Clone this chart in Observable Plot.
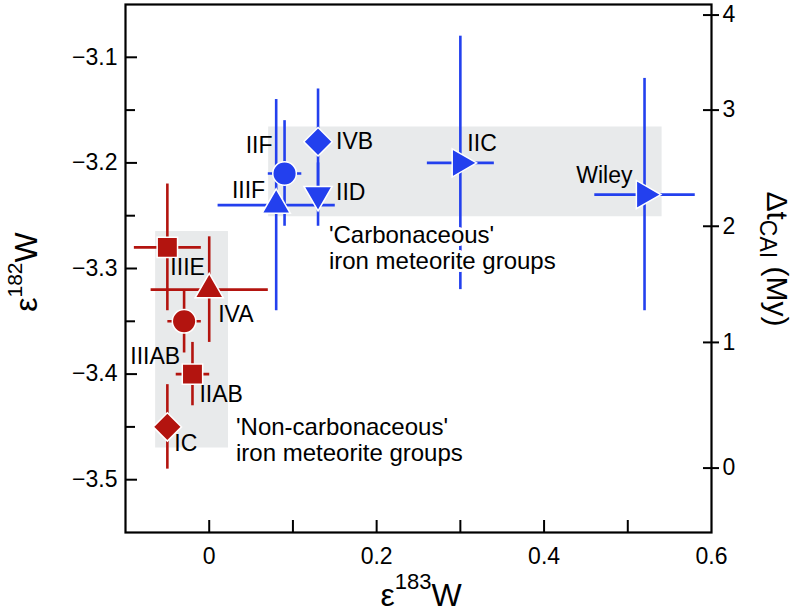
<!DOCTYPE html>
<html>
<head>
<meta charset="utf-8">
<script src="https://cdn.jsdelivr.net/npm/d3@7"></script>
<script src="https://cdn.jsdelivr.net/npm/@observablehq/plot@0.6"></script>
<style>
  html, body { margin: 0; padding: 0; background: white; }
  #chart svg { display: block; }
</style>
</head>
<body>
<div id="chart"></div>
<script>
// ---- data ----
const groups   = ["IIIE", "IVA", "IIIAB", "IIAB", "IC", "IIF", "IIIF", "IVB", "IID", "IIC", "Wiley"];
const types    = ["NC", "NC", "NC", "NC", "NC", "CC", "CC", "CC", "CC", "CC", "CC"];
const shapes   = ["square", "triangle", "circle", "square", "diamond", "circle", "triangle", "diamond", "triangle-down", "triangle-right", "triangle-right"];
const e183     = [-0.05, 0.00, -0.03, -0.02, -0.05, 0.09, 0.08, 0.13, 0.13, 0.30, 0.52];
const e183Err  = [0.04, 0.07, 0.02, 0.02, 0.00, 0.02, 0.07, 0.00, 0.00, 0.04, 0.06];
const e182     = [-3.28, -3.32, -3.35, -3.40, -3.45, -3.21, -3.24, -3.18, -3.23, -3.20, -3.23];
const e182Err  = [0.06, 0.05, 0.03, 0.03, 0.04, 0.05, 0.10, 0.05, 0.03, 0.12, 0.11];

// shaded group fields (data units)
const boxX1 = [-0.064, 0.071];
const boxX2 = [0.023, 0.541];
const boxY1 = [-3.470, -3.251];
const boxY2 = [-3.265, -3.166];

// annotations
const annText = ["'Carbonaceous'\niron meteorite groups", "'Non-carbonaceous'\niron meteorite groups"];
const annX = [0.143, 0.032];
const annY = [-3.280, -3.462];

// ticks
const xTicks = [0, 0.2, 0.4, 0.6];
const xTickLabels = ["0", "0.2", "0.4", "0.6"];
const xMinorTicks = [0, 0.1, 0.2, 0.3, 0.4, 0.5];
const yTicks = [-3.5, -3.4, -3.3, -3.2, -3.1];
const yTickLabels = ["−3.5", "−3.4", "−3.3", "−3.2", "−3.1"];
const yMinorTicks = [-3.45, -3.35, -3.25, -3.15];
const rightTickVals = [-3.489, -3.370, -3.260, -3.150, -3.060]; // ε182W equivalents of Δt
const rightTickLabels = ["0", "1", "2", "3", "4"];

// ---- styles ----
const W = 796, H = 614;
const mL = 125, mR = 85, mT = 4, mB = 82;
const frameW = W - mL - mR, frameH = H - mT - mB;
const colorOf = {NC: "#b3140f", CC: "#2340ee"};
const symOf = {
  "square": ["square", 0, 11.5],
  "circle": ["circle", 0, 11.8],
  "diamond": ["diamond2", 0, 12.8],
  "triangle": ["triangle", 0, 10.5],
  "triangle-down": ["triangle", 180, 10.5],
  "triangle-right": ["triangle", 90, 10.5]
};
const labelPos = {
  "IIIE":  ["start", 3, 20],
  "IVA":   ["start", 9, 25],
  "IIIAB": ["end", -4, 35],
  "IIAB":  ["start", 7, 21],
  "IC":    ["start", 7, 17],
  "IIF":   ["end", -12, -28],
  "IIIF":  ["end", -11, -15],
  "IVB":   ["start", 18, 0],
  "IID":   ["start", 18, -2],
  "IIC":   ["start", 7, -19],
  "Wiley": ["end", -12, -19]
};
const tickFont = 23;

const data = groups.map((g, i) => ({
  group: g, type: types[i], shape: shapes[i],
  x: e183[i], xe: e183Err[i], y: e182[i], ye: e182Err[i]
}));
const boxes = boxX1.map((_, i) => ({x1: boxX1[i], x2: boxX2[i], y1: boxY1[i], y2: boxY2[i]}));
const anns = annText.map((t, i) => ({text: t, x: annX[i], y: annY[i]}));

const labelMarks = data.map(d => {
  const [anchor, dx, dy] = labelPos[d.group];
  return Plot.text([d], {x: "x", y: "y", text: "group", textAnchor: anchor, dx, dy,
    fontSize: 23, fill: "black"});
});

const chart = Plot.plot({
  width: W, height: H,
  marginLeft: mL, marginRight: mR, marginTop: mT, marginBottom: mB,
  style: {fontFamily: "'Liberation Sans', Arial, Helvetica, sans-serif", background: "white", color: "black", overflow: "visible"},
  x: {domain: [-0.1, 0.6], axis: null},
  y: {domain: [-3.55, -3.05], axis: null},
  r: {type: "identity"},
  color: {type: "identity"},
  marks: [
    Plot.rect(boxes, {x1: "x1", x2: "x2", y1: "y1", y2: "y2", fill: "#e8eaeb"}),
    // error bars
    Plot.link(data.filter(d => d.xe > 0), {
      x1: d => d.x - d.xe, x2: d => d.x + d.xe, y1: "y", y2: "y",
      stroke: d => colorOf[d.type], strokeWidth: 2.6
    }),
    Plot.ruleX(data.filter(d => d.ye > 0), {
      x: "x", y1: d => d.y - d.ye, y2: d => d.y + d.ye,
      stroke: d => colorOf[d.type], strokeWidth: 2.6
    }),
    // annotations with white halo
    Plot.text(anns, {x: "x", y: "y", text: "text", textAnchor: "start", lineAnchor: "middle",
      lineHeight: 1.1, fontSize: 24, fill: "black", stroke: "white", strokeWidth: 6}),
    // markers
    Plot.dot(data, {
      x: "x", y: "y",
      symbol: d => symOf[d.shape][0],
      rotate: d => symOf[d.shape][1],
      r: d => symOf[d.shape][2],
      fill: d => colorOf[d.type],
      stroke: "white", strokeWidth: 1.5
    }),
    ...labelMarks,
    // frame and ticks
    Plot.frame({stroke: "black", strokeWidth: 2.2}),
    Plot.tickY(yTicks, {y: d => d, insetRight: frameW - 12, stroke: "black", strokeWidth: 2}),
    Plot.tickY(yMinorTicks, {y: d => d, insetRight: frameW - 10, stroke: "black", strokeWidth: 2}),
    Plot.tickX(xMinorTicks, {x: d => d, insetTop: frameH - 12, stroke: "black", strokeWidth: 2}),
    Plot.tickY(rightTickVals, {y: d => d, insetLeft: frameW - 8, insetRight: -8, stroke: "black", strokeWidth: 2}),
    // tick labels
    Plot.text(yTicks, {y: d => d, text: (d, i) => yTickLabels[i], frameAnchor: "left",
      textAnchor: "end", dx: -8, fontSize: tickFont, fill: "black"}),
    Plot.text(rightTickVals, {y: d => d, text: (d, i) => rightTickLabels[i], frameAnchor: "right",
      textAnchor: "start", dx: 11, fontSize: tickFont, fill: "black"}),
    Plot.text(xTicks, {x: d => d, text: (d, i) => xTickLabels[i], frameAnchor: "bottom",
      lineAnchor: "top", dy: 15, fontSize: tickFont, fill: "black"})
  ]
});

document.getElementById("chart").appendChild(chart);
const svg = d3.select(chart);

// ---- axis titles with super/subscripts ----
const ff = "'Liberation Sans', Arial, Helvetica, sans-serif";

// bottom title: ε183W
const bt = svg.append("text").attr("x", 421).attr("y", 606)
  .attr("text-anchor", "middle").attr("font-family", ff).attr("font-size", 32).attr("fill", "black");
bt.append("tspan").text("ε");
bt.append("tspan").attr("font-size", 22).attr("dy", -17).text("183");
bt.append("tspan").attr("dy", 17).text("W");

// left title: ε182W (rotated)
const lt = svg.append("text").attr("transform", "translate(37,272) rotate(-90)")
  .attr("text-anchor", "middle").attr("font-family", ff).attr("font-size", 32).attr("fill", "black");
lt.append("tspan").text("ε");
lt.append("tspan").attr("font-size", 21).attr("dy", -15).text("182");
lt.append("tspan").attr("dy", 15).text("W");

// right title: ΔtCAI (My)
const rt = svg.append("text").attr("transform", "translate(767,259) rotate(90)")
  .attr("text-anchor", "middle").attr("font-family", ff).attr("font-size", 30).attr("fill", "black");
rt.append("tspan").text("Δt");
rt.append("tspan").attr("font-size", 23).attr("dy", 7).text("CAI");
rt.append("tspan").attr("dy", -7).text(" (My)");
</script>
</body>
</html>
